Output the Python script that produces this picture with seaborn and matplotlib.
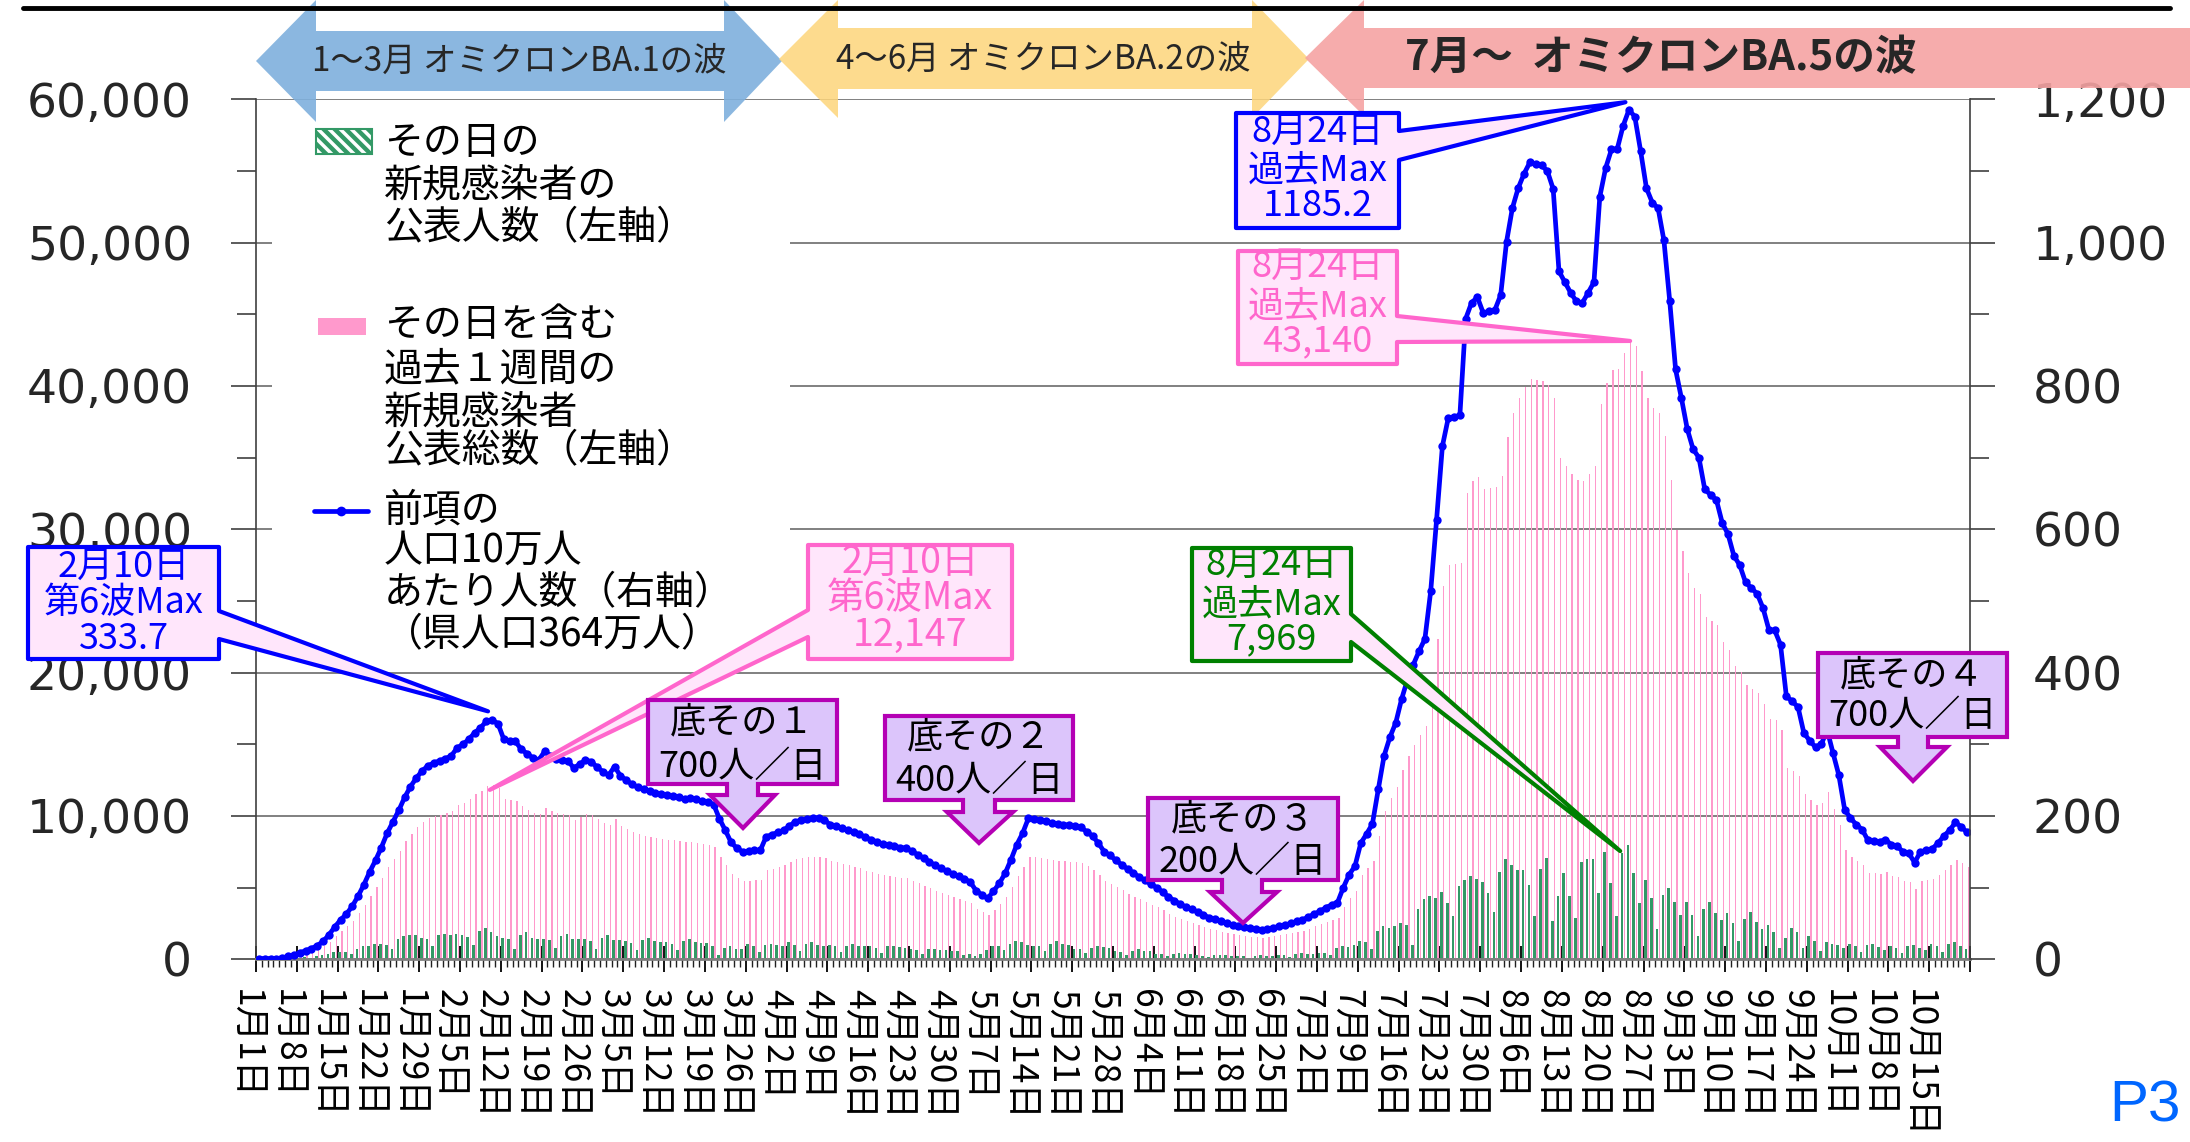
import numpy as np
import pandas as pd
import matplotlib
matplotlib.use("Agg")
import matplotlib.pyplot as plt
import seaborn as sns
from matplotlib.patches import Polygon, Rectangle
from matplotlib.lines import Line2D
from matplotlib.ticker import FuncFormatter
from matplotlib.transforms import blended_transform_factory, ScaledTranslation

sns.set_theme(style="white")
JP = ['Noto Sans CJK JP', 'DejaVu Sans']
plt.rcParams['font.family'] = JP
plt.rcParams['hatch.linewidth'] = 2.5

# daily new cases (left axis), one row per week starting Sat 1/1
daily_cases = [
    10, 8, 6, 14, 30, 60, 90,
    120, 130, 90, 200, 280, 380, 490,
    520, 480, 380, 750, 900, 950, 1050,
    1100, 1000, 700, 1400, 1600, 1700, 1700,
    1500, 1400, 900, 1700, 1800, 1700, 1750,
    1700, 1550, 1000, 2000, 2200, 1900, 1650,
    1500, 1400, 750, 1700, 1900, 1500, 1400,
    1450, 1350, 800, 1650, 1800, 1400, 1450,
    1400, 1300, 700, 1500, 1700, 1350, 1350,
    1250, 1150, 650, 1350, 1500, 1250, 1200,
    1200, 1100, 620, 1300, 1450, 1200, 1170,
    1150, 900, 300, 800, 900, 700, 700,
    1100, 950, 500, 1000, 1100, 1000, 900,
    1200, 1000, 600, 1100, 1200, 1000, 950,
    1000, 900, 500, 950, 1050, 900, 900,
    900, 800, 450, 900, 950, 850, 800,
    700, 650, 350, 700, 750, 680, 650,
    600, 550, 300, 350, 250, 400, 650,
    950, 950, 650, 1100, 1300, 1200, 1000,
    900, 900, 600, 1050, 1250, 1100, 1000,
    750, 700, 450, 800, 950, 850, 780,
    550, 520, 320, 580, 700, 600, 550,
    380, 340, 200, 400, 460, 400, 370,
    270, 230, 150, 270, 310, 270, 250,
    230, 200, 120, 260, 300, 250, 240,
    300, 270, 170, 370, 430, 380, 370,
    450, 420, 280, 800, 900, 850, 1030,
    1300, 1200, 700, 2000, 2300, 2200, 2300,
    2500, 2400, 1000, 3500, 4200, 4400, 4300,
    4700, 3900, 3000, 5100, 5500, 5800, 5600,
    5400, 4600, 3300, 6100, 7000, 6600, 6200,
    6200, 5200, 3000, 6300, 7100, 2700, 4400,
    6000, 4400, 2900, 6800, 7000, 7030, 4600,
    7500, 5300, 3000, 7400, 7969, 6000, 3900,
    5500, 4300, 2100, 4500, 5000, 4000, 3100,
    4000, 3100, 1600, 3500, 4000, 3200, 2770,
    3200, 2500, 1300, 2800, 3300, 2600, 2136,
    2400, 1900, 800, 1500, 2200, 1900, 800,
    1600, 1300, 600, 1200, 1100, 1000, 800,
    1050, 900, 500, 1000, 1100, 850, 680,
    950, 800, 450, 900, 1000, 800, 630,
    1050, 900, 500, 1100, 1200, 950, 750,
]

# 7-day totals (left axis)
weekly_total = [
    36, 36, 36, 36, 73, 146, 218,
    328, 437, 546, 692, 910, 1238, 1638,
    2002, 2293, 2694, 3203, 3786, 4441, 5023,
    5678, 6406, 6989, 7571, 8226, 8772, 9209,
    9573, 9828, 9974, 10083, 10192, 10338, 10738,
    10920, 11175, 11502, 11757, 12085, 12147, 11976,
    11175, 11102, 11066, 10665, 10447, 10228, 10119,
    10556, 10338, 10192, 10119, 10083, 9719, 9901,
    10119, 10046, 9755, 9537, 9355, 9792, 9318,
    9100, 8882, 8736, 8627, 8554, 8445, 8372,
    8336, 8299, 8226, 8154, 8190, 8117, 8044,
    8008, 7862, 7134, 6552, 5933, 5642, 5460,
    5496, 5533, 5533, 6224, 6334, 6443, 6552,
    6770, 6989, 7062, 7134, 7171, 7171, 7062,
    6843, 6770, 6661, 6552, 6443, 6370, 6188,
    6079, 5970, 5860, 5824, 5751, 5678, 5642,
    5496, 5314, 5132, 4950, 4768, 4623, 4477,
    4332, 4222, 4077, 3931, 3494, 3276, 3094,
    3458, 3858, 4368, 5060, 5824, 6406, 7171,
    7134, 7098, 7025, 6916, 6880, 6843, 6807,
    6770, 6698, 6479, 6261, 5897, 5460, 5278,
    5023, 4805, 4586, 4368, 4186, 4004, 3822,
    3640, 3422, 3167, 2985, 2803, 2657, 2548,
    2402, 2257, 2111, 2038, 1929, 1820, 1747,
    1711, 1638, 1565, 1529, 1492, 1529, 1602,
    1674, 1747, 1820, 1929, 2002, 2148, 2293,
    2439, 2621, 2766, 2876, 3640, 4295, 4732,
    5897, 6370, 6880, 8627, 10338, 11284, 12012,
    13213, 14196, 14960, 15652, 16271, 18710, 22313,
    26062, 27482, 27555, 27628, 32542, 33342, 33634,
    32833, 32906, 32978, 33743, 36436, 38147, 39166,
    39894, 40477, 40404, 40331, 40040, 39130, 34944,
    34398, 33852, 33415, 33342, 33852, 34398, 38730,
    40186, 41132, 41168, 42333, 43140, 42806, 41059,
    39166, 38438, 38147, 36509, 33415, 29957, 28501,
    26936, 25917, 25480, 23878, 23587, 23332, 22168,
    21585, 20493, 20020, 19146, 18855, 18564, 17836,
    16744, 16708, 15980, 13359, 13104, 12813, 11502,
    11102, 10774, 10920, 11648, 10483, 9355, 7608,
    7171, 6843, 6588, 6042, 6006, 5970, 6079,
    5824, 5751, 5460, 5387, 4914, 5460, 5533,
    5606, 5897, 6261, 6552, 6952, 6734, 6443,
]

# per 100k population (right axis)
per_100k = [
    1, 1, 1, 1, 2, 4, 6,
    9, 12, 15, 19, 25, 34, 45,
    55, 63, 74, 88, 104, 122, 138,
    156, 176, 192, 208, 226, 241, 253,
    263, 270, 274, 277, 280, 284, 295,
    300, 307, 316, 323, 332, 333.7, 329,
    307, 305, 304, 293, 287, 281, 278,
    290, 284, 280, 278, 277, 267, 272,
    278, 276, 268, 262, 257, 269, 256,
    250, 244, 240, 237, 235, 232, 230,
    229, 228, 226, 224, 225, 223, 221,
    220, 216, 196, 180, 163, 155, 150,
    151, 152, 152, 171, 174, 177, 180,
    186, 192, 194, 196, 197, 197, 194,
    188, 186, 183, 180, 177, 175, 170,
    167, 164, 161, 160, 158, 156, 155,
    151, 146, 141, 136, 131, 127, 123,
    119, 116, 112, 108, 96, 90, 85,
    95, 106, 120, 139, 160, 176, 197,
    196, 195, 193, 190, 189, 188, 187,
    186, 184, 178, 172, 162, 150, 145,
    138, 132, 126, 120, 115, 110, 105,
    100, 94, 87, 82, 77, 73, 70,
    66, 62, 58, 56, 53, 50, 48,
    47, 45, 43, 42, 41, 42, 44,
    46, 48, 50, 53, 55, 59, 63,
    67, 72, 76, 79, 100, 118, 130,
    162, 175, 189, 237, 284, 310, 330,
    363, 390, 411, 430, 447, 514, 613,
    716, 755, 757, 759, 894, 916, 924,
    902, 904, 906, 927, 1001, 1048, 1076,
    1096, 1112, 1110, 1108, 1100, 1075, 960,
    945, 930, 918, 916, 930, 945, 1064,
    1104, 1130, 1131, 1163, 1185.2, 1176, 1128,
    1076, 1056, 1048, 1003, 918, 823, 783,
    740, 712, 700, 656, 648, 641, 609,
    593, 563, 550, 526, 518, 510, 490,
    460, 459, 439, 367, 360, 352, 316,
    305, 296, 300, 320, 288, 257, 209,
    197, 188, 181, 166, 165, 164, 167,
    160, 158, 150, 148, 135, 150, 152,
    154, 162, 172, 180, 191, 185, 177,
]

dates = pd.date_range('2022-01-01', periods=len(per_100k), freq='D')
xtick_labels = [f"{d.month}月{d.day}日" for d in dates[::7]]

wave_labels = ['1～3月 オミクロンBA.1の波', '4～6月 オミクロンBA.2の波', '7月～  オミクロンBA.5の波']
legend_green = ['その日の', '新規感染者の', '公表人数（左軸）']
legend_pink = ['その日を含む', '過去１週間の', '新規感染者', '公表総数（左軸）']
legend_blue = ['前項の', '人口10万人', 'あたり人数（右軸）', '（県人口364万人）']

GREEN = '#339966'
PINK = '#ff99cc'
BLUE = '#0000ff'
FILL = '#ffe6fb'
PINK_DARK = '#ff66cc'
DGREEN = '#008000'
LAV = '#dcc5fb'
PURPLE = '#b400b4'

W, H = 2190, 1142
fig = plt.figure(figsize=(W / 100, H / 100), dpi=100, facecolor='white')
ax = fig.add_axes([256 / W, 1 - 959.3 / H, (1970 - 256) / W, (959.3 - 99.3) / H])


def P(x, y):
    return (x / W, 1 - y / H)


n = len(per_100k)
days = np.arange(n)
df = pd.DataFrame({
    'day': np.concatenate([days, days]),
    'kind': ['daily'] * n + ['week'] * n,
    'value': daily_cases + weekly_total,
})
sns.barplot(data=df, x='day', y='value', hue='kind', hue_order=['daily', 'week'],
            palette={'daily': GREEN, 'week': PINK}, saturation=1, errorbar=None,
            width=0.8, linewidth=0, legend=False, ax=ax)
for bar in ax.containers[0]:
    c = bar.get_x() + bar.get_width() / 2 + 0.2
    bar.set_x(c - 0.40)
    bar.set_width(0.46)
for bar in ax.containers[1]:
    c = bar.get_x() + bar.get_width() / 2 - 0.2
    bar.set_x(c + 0.14)
    bar.set_width(0.22)

ax.set_xlim(-0.5, n - 0.5)
ax.set_ylim(0, 60000)

ax2 = ax.twinx()
sns.lineplot(x=days, y=per_100k, ax=ax2, color=BLUE, linewidth=3.4, marker='o',
             markersize=6, markeredgecolor=BLUE, markeredgewidth=0, legend=False)
ax2.set_ylim(0, 1200)
ax2.set_xlim(-0.5, n - 0.5)

for a in (ax, ax2):
    a.set_xlabel('')
    a.set_ylabel('')

# left axis
ax.set_yticks(range(0, 60001, 10000))
ax.set_yticks(range(5000, 60000, 10000), minor=True)
ax.yaxis.set_major_formatter(FuncFormatter(lambda v, p: f"{v:,.0f}"))
ax.tick_params(axis='y', which='major', left=True, direction='out', length=18, width=1.2,
               color='#404040', pad=28, labelsize=34, labelfontfamily='DejaVu Sans')
ax.tick_params(axis='y', which='minor', left=True, direction='out', length=13.5, width=1.2,
               color='#404040')
ax.yaxis.grid(True, color='#808080', lw=1.4)
ax.set_axisbelow(True)

# right axis
ax2.set_yticks(range(0, 1201, 200))
ax2.set_yticks(range(100, 1200, 200), minor=True)
ax2.yaxis.set_major_formatter(FuncFormatter(lambda v, p: f"{v:,.0f}"))
ax2.tick_params(axis='y', which='major', right=True, direction='out', length=18, width=1.2,
                color='#404040', pad=27, labelsize=34, labelfontfamily='DejaVu Sans')
ax2.tick_params(axis='y', which='minor', right=True, direction='out', length=13.5, width=1.2,
                color='#404040')
ax2.grid(False)

# x axis ticks: daily minor, weekly major
major_pos = np.arange(-0.5, n + 0.5, 7)
ax.set_xticks(major_pos, labels=[''] * len(major_pos))
ax.set_xticks(np.arange(-0.5, n + 0.5, 1), minor=True)
ax.tick_params(axis='x', which='major', bottom=True, direction='inout', length=19, width=1.3,
               color='black')
ax.tick_params(axis='x', which='minor', bottom=True, direction='out', length=6, width=1,
               color='#202020')

for s in ['top', 'right']:
    ax.spines[s].set_visible(False)
for s in ['top', 'left', 'bottom']:
    ax2.spines[s].set_visible(False)
ax.spines['left'].set_color('#404040')
ax.spines['left'].set_linewidth(1.2)
ax.spines['bottom'].set_color('#808080')
ax.spines['bottom'].set_linewidth(2)
ax2.spines['right'].set_color('#404040')
ax2.spines['right'].set_linewidth(1.2)

trans = blended_transform_factory(ax.transData, ax.transAxes) + \
    ScaledTranslation(-13 / 100, 0, fig.dpi_scale_trans)
for k, lab in enumerate(xtick_labels):
    ax.text(days[7 * k], -0.034, lab, transform=trans, rotation=-90, ha='center', va='top',
            fontsize=25.5, color='black')


def add_poly(pts, **kw):
    fig.add_artist(Polygon([P(*p) for p in pts], closed=True, transform=fig.transFigure, **kw))


def rect_px(x0, y0, x1, y1, **kw):
    fig.add_artist(Rectangle((x0 / W, 1 - y1 / H), (x1 - x0) / W, (y1 - y0) / H,
                             transform=fig.transFigure, **kw))


def lines_at(x, ys, texts, **kw):
    for t, y in zip(texts, ys):
        fig.text(*P(x, y), t, ha='center', va='center', **kw)


def data_px(axis, x, y):
    X, Y = axis.transData.transform((x, y))
    return X, H - Y


# legend box
rect_px(272, 110, 790, 665, facecolor='white', edgecolor='none', zorder=2)
rect_px(316, 129, 372, 154, facecolor=GREEN, edgecolor='white', hatch='\\\\\\', lw=0, zorder=3)
rect_px(316, 129, 372, 154, facecolor='none', edgecolor=GREEN, lw=1.5, zorder=3)
rect_px(318, 318, 366, 335, facecolor=PINK, edgecolor='none', zorder=3)
fig.add_artist(Line2D([314 / W, 368 / W], [1 - 511 / H] * 2, color=BLUE, lw=3.4,
                      transform=fig.transFigure, zorder=3))
fig.add_artist(Line2D([341 / W], [1 - 511 / H], color=BLUE, marker='o', markersize=7,
                      markeredgewidth=0, transform=fig.transFigure, zorder=3))
for texts, ys in [(legend_green, [143, 185, 228]),
                  (legend_pink, [325, 369, 412, 451]),
                  (legend_blue, [511, 551, 593, 635])]:
    for t, y in zip(texts, ys):
        fig.text(*P(384, y), t, ha='left', va='center', fontsize=28, color='black', zorder=3)

# wave banner
add_poly([(256, 61), (316, 0), (316, 31), (724, 31), (724, 0), (782, 61), (724, 122),
          (724, 91), (316, 91), (316, 122)], facecolor='#7fb0dd', edgecolor='none',
         alpha=0.9, zorder=4)
add_poly([(779, 59), (838, 0), (838, 28), (1252, 28), (1252, 0), (1309, 59), (1252, 118),
          (1252, 89), (838, 89), (838, 118)], facecolor='#fdd57a', edgecolor='none',
         alpha=0.85, zorder=4)
add_poly([(1305, 58), (1364, 0), (1364, 28), (2190, 28), (2190, 88), (1364, 88), (1364, 116)],
         facecolor='#f5a3a3', edgecolor='none', alpha=0.9, zorder=4)
fig.text(*P(519, 61), wave_labels[0], ha='center', va='center', fontsize=24, zorder=6)
fig.text(*P(1043, 59), wave_labels[1], ha='center', va='center', fontsize=24, zorder=6)
fig.text(*P(1661, 58), wave_labels[2], ha='center', va='center', fontsize=30,
         fontweight='bold', zorder=6)
fig.add_artist(Line2D([23 / W, 2170 / W], [1 - 8 / H] * 2, color='black', lw=3.5,
                      transform=fig.transFigure, zorder=6))


def callout(box, side, base, tip, edge, texts, ys, size):
    x0, y0, x1, y1 = box
    ya, yb = base
    tx, ty = tip
    if side == 'right':
        pts = [(x0, y0), (x1, y0), (x1, ya), (tx, ty), (x1, yb), (x1, y1), (x0, y1)]
    else:
        pts = [(x0, y0), (x1, y0), (x1, y1), (x0, y1), (x0, yb), (tx, ty), (x0, ya)]
    add_poly(pts, facecolor=FILL, edgecolor=edge, lw=3, joinstyle='round', zorder=5)
    lines_at((x0 + x1) / 2, ys, texts, color=edge, fontsize=size, zorder=6)


callout((28, 547, 219, 659), 'right', (611, 639), data_px(ax2, 39.3, 346), BLUE,
        ['2月10日', '第6波Max', '333.7'], [567, 603, 639], 26)
callout((808, 545, 1012, 659), 'left', (610, 637), data_px(ax, 39.6, 11820), PINK_DARK,
        ['2月10日', '第6波Max', '12,147'], [563, 598, 635], 27)
callout((1236, 113, 1399, 228), 'right', (131, 160), data_px(ax2, 234.4, 1196), BLUE,
        ['8月24日', '過去Max', '1185.2'], [132, 171, 206], 26)
callout((1238, 251, 1397, 364), 'right', (316, 342), data_px(ax, 235.2, 43140), PINK_DARK,
        ['8月24日', '過去Max', '43,140'], [267, 307, 341], 26)
callout((1192, 548, 1351, 661), 'right', (614, 642), data_px(ax, 233.5, 7550), DGREEN,
        ['8月24日', '過去Max', '7,969'], [565, 605, 639], 26)


def bottom_note(box, shaft, head, head_top, tip, texts, ys):
    x0, y0, x1, y1 = box
    s0, s1 = shaft
    h0, h1 = head
    tx, ty = tip
    pts = [(x0, y0), (x1, y0), (x1, y1), (s1, y1), (s1, head_top), (h1, head_top), (tx, ty),
           (h0, head_top), (s0, head_top), (s0, y1), (x0, y1)]
    add_poly(pts, facecolor=LAV, edgecolor=PURPLE, lw=3, joinstyle='miter', zorder=5)
    lines_at((x0 + x1) / 2, ys, texts, color='black', fontsize=26, zorder=6)


bottom_note((648, 700, 837, 784), (727, 758), (710, 775), 795, (743, 828),
            ['底その１', '700人／日'], [722, 767])
bottom_note((885, 716, 1073, 800), (963, 995), (947, 1013), 812, (979, 843),
            ['底その２', '400人／日'], [737, 781])
bottom_note((1148, 798, 1338, 880), (1222, 1262), (1210, 1277), 892, (1243, 923),
            ['底その３', '200人／日'], [819, 862])
bottom_note((1818, 653, 2007, 737), (1898, 1928), (1880, 1947), 747, (1913, 781),
            ['底その４', '700人／日'], [675, 716])

fig.text(*P(2109, 1106), 'P3', ha='left', va='center', fontsize=42, color='#0066ff',
         family=['Liberation Sans', 'DejaVu Sans'])

fig.savefig('out.png', dpi=100, facecolor='white')
